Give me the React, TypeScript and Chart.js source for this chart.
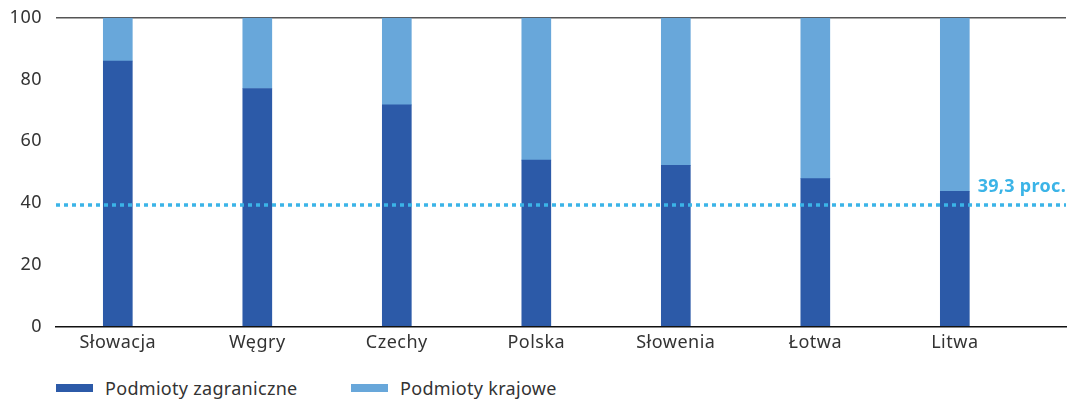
import React, { useEffect, useRef } from "react";
import { Chart, registerables } from "chart.js";

Chart.register(...registerables);

const countries = ["Słowacja", "Węgry", "Czechy", "Polska", "Słowenia", "Łotwa", "Litwa"];
const foreignShare = [86.0, 77.1, 71.8, 53.9, 52.2, 47.9, 43.8];
const domesticShare = [14.0, 22.9, 28.2, 46.1, 47.8, 52.1, 56.2];
const averageLevel = 39.3;
const averageLabel = "39,3 proc.";
const yTicks = [0, 20, 40, 60, 80, 100];
const seriesNames = ["Podmioty zagraniczne", "Podmioty krajowe"];

const DARK = "#2c5aa8";
const LIGHT = "#68a7da";
const REF = "#3bb4e7";
const TEXT = "#333333";
const FONT = "'Noto Sans', sans-serif";

const X_MIN = -0.443;
const X_MAX = 6.797;

// slightly wider tracking for all canvas text
const trackingPlugin = {
  id: "tracking",
  beforeDraw(chart: any) {
    chart.ctx.letterSpacing = "0.5px";
  },
};

const refLabelPlugin = {
  id: "refLabel",
  afterDatasetsDraw(chart: any) {
    const { ctx, chartArea, scales } = chart;
    const y = scales.y.getPixelForValue(averageLevel);
    ctx.save();
    ctx.letterSpacing = "0.3px";
    ctx.font = `bold 18px ${FONT}`;
    ctx.fillStyle = REF;
    ctx.textAlign = "right";
    ctx.textBaseline = "alphabetic";
    ctx.fillText(averageLabel, chartArea.right, y - 13);
    ctx.restore();
  },
};

export default function App() {
  const canvasRef = useRef<HTMLCanvasElement | null>(null);

  useEffect(() => {
    if (!canvasRef.current) return;
    const chart = new Chart(canvasRef.current, {
      type: "bar",
      data: {
        datasets: [
          {
            label: seriesNames[0],
            data: foreignShare.map((v, i) => ({ x: i, y: v })),
            backgroundColor: DARK,
            barThickness: 29,
            stack: "shares",
            order: 2,
          },
          {
            label: seriesNames[1],
            data: domesticShare.map((v, i) => ({ x: i, y: v })),
            backgroundColor: LIGHT,
            barThickness: 29,
            stack: "shares",
            order: 2,
          },
          {
            type: "line",
            label: "avg",
            data: [
              { x: X_MIN, y: averageLevel },
              { x: X_MAX, y: averageLevel },
            ],
            borderColor: REF,
            borderWidth: 3.5,
            borderDash: [4, 4],
            pointRadius: 0,
            stack: "ref",
            order: 1,
          } as any,
        ],
      },
      options: {
        responsive: false,
        animation: false,
        layout: { padding: { top: 1, right: 5, bottom: 7, left: 0 } },
        plugins: {
          legend: { display: false },
          tooltip: { enabled: false },
        },
        scales: {
          x: {
            type: "linear",
            min: X_MIN,
            max: X_MAX,
            offset: false,
            stacked: true,
            afterBuildTicks: (scale: any) => {
              scale.ticks = countries.map((_, i) => ({ value: i }));
            },
            ticks: {
              callback: (v: any) => countries[v] ?? "",
              color: TEXT,
              font: { family: FONT, size: 18 },
              padding: 6,
              maxRotation: 0,
              autoSkip: false,
            },
            grid: { display: false, drawTicks: false, offset: false },
            border: { display: true, color: "#111111", width: 1.5 },
          },
          y: {
            min: 0,
            max: 100,
            stacked: true,
            afterBuildTicks: (scale: any) => {
              scale.ticks = yTicks.map((v) => ({ value: v }));
            },
            afterFit: (scale: any) => {
              scale.width = 56;
            },
            ticks: {
              color: TEXT,
              font: { family: FONT, size: 18 },
              padding: 14,
            },
            grid: {
              drawTicks: false,
              lineWidth: 1.5,
              color: (c: any) => (c.tick && c.tick.value === 100 ? "#555555" : "rgba(0,0,0,0)"),
            },
            border: { display: false },
          },
        },
      },
      plugins: [trackingPlugin, refLabelPlugin],
    });
    return () => chart.destroy();
  }, []);

  const legendItem = (color: string, text: string, left: number) => (
    <div
      style={{
        position: "absolute",
        left,
        top: 377,
        height: 22,
        display: "flex",
        alignItems: "center",
      }}
    >
      <span style={{ display: "inline-block", width: 37, height: 8, background: color, marginRight: 12 }} />
      <span style={{ fontFamily: FONT, fontSize: 18, letterSpacing: "0.3px", color: TEXT, whiteSpace: "nowrap" }}>
        {text}
      </span>
    </div>
  );

  return (
    <div style={{ position: "fixed", left: 0, top: 0, width: 1071, height: 399, background: "#fff", overflow: "hidden" }}>
      <canvas ref={canvasRef} width={1071} height={374} style={{ position: "absolute", left: 0, top: -7 }} />
      {legendItem(DARK, seriesNames[0], 56)}
      {legendItem(LIGHT, seriesNames[1], 351)}
    </div>
  );
}
